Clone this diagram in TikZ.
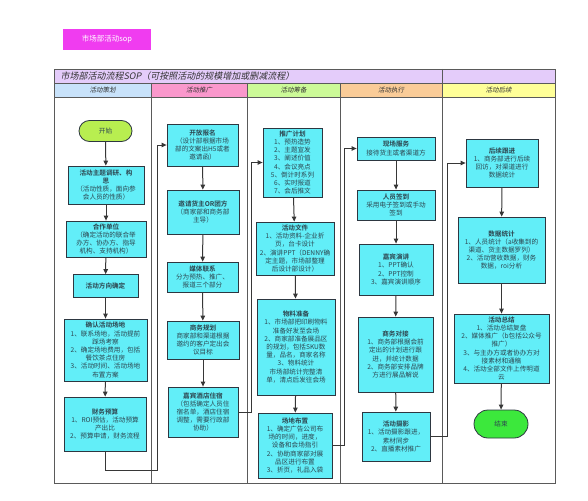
\documentclass[tikz,border=0pt]{standalone}
\usepackage{fontspec}
\setmainfont{Noto Sans CJK SC}[BoldFont={Noto Sans CJK SC Bold}]
\newfontfamily\slfont{Noto Sans CJK SC}[FakeSlant=0.2]
\usetikzlibrary{arrows.meta,shapes.misc}
\definecolor{boxcyan}{RGB}{98,238,248}
\definecolor{boxline}{RGB}{45,55,65}
\definecolor{bodytxt}{RGB}{45,70,80}
\definecolor{linecol}{RGB}{55,55,55}
\definecolor{gridcol}{RGB}{90,90,90}
\definecolor{titlebg}{RGB}{228,204,250}
\definecolor{hblue}{RGB}{200,226,250}
\definecolor{hpink}{RGB}{250,152,204}
\definecolor{hgreen}{RGB}{204,250,152}
\definecolor{horange}{RGB}{250,204,152}
\definecolor{hyellow}{RGB}{255,255,152}
\definecolor{magbox}{RGB}{240,60,240}
\definecolor{startgreen}{RGB}{184,238,80}
\definecolor{endgreen}{RGB}{60,232,60}
\tikzset{
  stepbox/.style={draw=boxline, fill=boxcyan, line width=0.8pt, align=center,
    font=\fontsize{6.6}{8.2}\selectfont, text=bodytxt, inner sep=1pt},
  termbox/.style={draw=boxline, line width=0.8pt, rounded rectangle, align=center,
    font=\fontsize{6.6}{8.2}\selectfont, text=bodytxt, inner sep=1pt},
  conn/.style={draw=linecol, line width=1pt, -{Triangle[length=5pt,width=4.5pt]}},
  hdr/.style={font=\slfont\fontsize{6.5}{7.5}\selectfont, text=black!80},
  grid/.style={draw=gridcol, line width=0.8pt}
}
\begin{document}
\begin{tikzpicture}[x=1pt,y=-1pt]
\useasboundingbox (0,0) rectangle (588,500);
% pink label
\node[fill=magbox, minimum width=88pt, minimum height=21pt, text=white,
  font=\fontsize{7.5}{8}\selectfont] (lab) at (107,39.5) {市场部活动sop};
% table backgrounds
\fill[titlebg] (54,69) rectangle (555,83);
\fill[hblue] (54,83) rectangle (151,97);
\fill[hpink] (151,83) rectangle (247,97);
\fill[hgreen] (247,83) rectangle (340,97);
\fill[horange] (340,83) rectangle (442,97);
\fill[hyellow] (442,83) rectangle (555,97);
% grid
\draw[grid] (54,69) rectangle (555,483);
\draw[grid] (54,83) -- (555,83);
\draw[grid] (54,97) -- (555,97);
\draw[grid] (442,69) -- (442,483);
\foreach \x in {151,247,340} \draw[grid] (\x,83) -- (\x,483);
% titles
\node[anchor=west, font=\slfont\fontsize{9}{10}\selectfont, text=black!80] (title) at (57,76.5)
  {市场部活动流程SOP（可按照活动的规模增加或删减流程）};
\node[hdr] (h1) at (102.5,90) {活动策划};
\node[hdr] (h2) at (199,90) {活动推广};
\node[hdr] (h3) at (293.5,90) {活动筹备};
\node[hdr] (h4) at (391,90) {活动执行};
\node[hdr] (h5) at (498.5,90) {活动后续};
% column 1
\node[termbox, fill=startgreen, minimum width=55pt, minimum height=21pt] (A1) at (105.5,131) {开始};
\node[stepbox, minimum width=76pt, minimum height=38pt] (A2) at (106,185)
  {\textbf{活动主题调研、构}\\\textbf{思}\\（活动性质，面向参\\会人员的性质）};
\node[stepbox, minimum width=80pt, minimum height=36pt] (A3) at (106,239)
  {\textbf{合作单位}\\（确定活动的联合举\\办方、协办方、指导\\机构、支持机构）};
\node[stepbox, minimum width=65pt, minimum height=23pt] (A4) at (105.5,286)
  {\textbf{活动方向确定}};
\node[stepbox, minimum width=83pt, minimum height=62pt] (A5) at (105.5,350)
  {\textbf{确认活动场地}\\1、联系场地，活动提前\\踩场考察\\2、确定场地费用，包括\\餐饮茶点住房\\3、活动时间、活动场地\\布置方案};
\node[stepbox, minimum width=82pt, minimum height=54pt] (A6) at (105,424)
  {\textbf{财务预算}\\1、ROI预估，活动预算\\产出比\\2、预算申请，财务流程};
% column 2
\node[stepbox, minimum width=71pt, minimum height=42pt] (B1) at (202.5,145)
  {\textbf{开放报名}\\（设计部根据市场\\部的文案出H5或者\\邀请函）};
\node[stepbox, minimum width=72pt, minimum height=44pt] (B2) at (203,212)
  {\textbf{邀请货主OR团方}\\（商家部和商务部\\主导）};
\node[stepbox, minimum width=71pt, minimum height=30pt] (B3) at (202.5,277)
  {\textbf{媒体联系}\\分为预热、推广、\\报道三个部分};
\node[stepbox, minimum width=72pt, minimum height=38pt] (B4) at (203,340)
  {\textbf{商务规划}\\商家部和渠道根据\\邀约的客户定出会\\议目标};
\node[stepbox, minimum width=70pt, minimum height=50pt] (B5) at (203,412)
  {\textbf{嘉宾酒店住宿}\\（包括确定人员住\\宿名单，酒店住宿\\调整，需要行政部\\协助）};
% column 3
\node[stepbox, minimum width=59pt, minimum height=69pt] (C1) at (292.5,162.5)
  {\textbf{推广计划}\\1、预热造势\\2、主题宣发\\3、阐述价值\\4、会议亮点\\5、倒计时系列\\6、实时报道\\7、会后推文};
\node[stepbox, minimum width=78pt, minimum height=53pt] (C2) at (295,248.5)
  {\textbf{活动文件}\\1、活动资料-企业折\\页，台卡设计\\2、演讲PPT（DENNY确\\定主题，市场部整理\\后设计部设计）};
\node[stepbox, minimum width=78pt, minimum height=96pt] (C3) at (296,347)
  {\textbf{物料准备}\\1、市场部把印刷物料\\准备好发至会场\\2、商家部准备展品区\\的规划，包括SKU数\\量，品名，商家名称\\3、物料统计\\市场部统计完整清\\单，清点后发往会场};
\node[stepbox, minimum width=74pt, minimum height=65pt] (C4) at (295,445.5)
  {\textbf{场地布置}\\1、确定广告公司布\\场的时间，进度，\\设备和会场指引\\2、协助商家部对展\\品区进行布置\\3、折页，礼品入袋};
% column 4
\node[stepbox, minimum width=78pt, minimum height=23pt] (D1) at (396,148.5)
  {\textbf{现场服务}\\接待货主或者渠道方};
\node[stepbox, minimum width=78pt, minimum height=30pt] (D2) at (396,205)
  {\textbf{人员签到}\\采用电子签到或手动\\签到};
\node[stepbox, minimum width=74pt, minimum height=51pt] (D3) at (396,269.5)
  {\textbf{嘉宾演讲}\\1、PPT确认\\2、PPT控制\\3、嘉宾演讲顺序};
\node[stepbox, minimum width=75pt, minimum height=75pt] (D4) at (395.5,354.5)
  {\textbf{商务对接}\\1、商务部根据会前\\定出的计划进行跟\\进，并统计数据\\2、商务部安排品牌\\方进行展品解说};
\node[stepbox, minimum width=68pt, minimum height=49pt] (D5) at (396,436.5)
  {\textbf{活动摄影}\\1、活动摄影跟进，\\素材同步\\2、直播素材推广};
% column 5
\node[stepbox, minimum width=72pt, minimum height=48pt] (E1) at (502,163)
  {\textbf{后续跟进}\\1、商务部进行后续\\回访，对渠道进行\\数据统计};
\node[stepbox, minimum width=87pt, minimum height=66pt] (E2) at (501.5,250)
  {\textbf{数据统计}\\1、人员统计（a收集到的\\渠道、货主数据罗列）\\2、活动营收数据，财务\\数据，roi分析};
\node[stepbox, minimum width=95pt, minimum height=69pt] (E3) at (501.5,348.5)
  {\textbf{活动总结}\\1、活动总结复盘\\2、媒体推广（b包括公众号\\推广）\\3、与主办方或者协办方对\\接素材和通稿\\4、活动全部文件上传明道\\云};
\node[termbox, fill=endgreen, minimum width=56pt, minimum height=28pt] (E4) at (501,424) {结束};
% vertical connectors
\draw[conn] (A1) -- (A2);
\draw[conn] (A2) -- (A3);
\draw[conn] (A3) -- (A4);
\draw[conn] (A4) -- (A5);
\draw[conn] (A5) -- (A6);
\draw[conn] (B1) -- (B2);
\draw[conn] (B2) -- (B3);
\draw[conn] (B3) -- (B4);
\draw[conn] (B4) -- (B5);
\draw[conn] (C1) -- (C2);
\draw[conn] (C2) -- (C3);
\draw[conn] (C3) -- (C4);
\draw[conn] (D1) -- (D2);
\draw[conn] (D2) -- (D3);
\draw[conn] (D3) -- (D4);
\draw[conn] (D4) -- (D5);
\draw[conn] (E1) -- (E2);
\draw[conn] (E2) -- (E3);
\draw[conn] (E3) -- (E4);
% cross-lane connectors
\coordinate (r1) at (157,470);
\draw[conn] (A6.south) |- (r1) |- (B1.west);
\draw[conn] (B5.east) -- ++(13,0) |- (C1.west);
\draw[conn] (C4.east) -- ++(12,0) |- (D1.west);
\draw[conn] (D5.east) -- ++(17,0) |- (E1.west);
\end{tikzpicture}
\end{document}
